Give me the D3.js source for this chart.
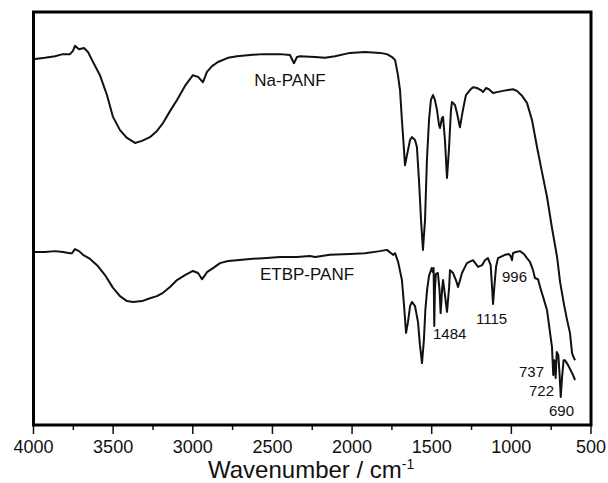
<!DOCTYPE html>
<html>
<head>
<meta charset="utf-8">
<script src="https://cdn.jsdelivr.net/npm/d3@7"></script>
<style>
  body { margin: 0; background: #fff; }
  svg { display: block; font-family: "Liberation Sans", Arial, sans-serif; }
</style>
</head>
<body>
<div id="chart"></div>
<script>
// Wavenumber (cm-1) for each series
const naWave = [3991, 3928, 3865, 3815, 3771, 3752, 3740, 3714, 3683, 3658, 3633, 3583, 3539, 3501, 3457, 3413, 3363, 3319, 3269, 3225, 3187, 3143, 3099, 3049, 2999, 2967, 2936, 2911, 2879, 2842, 2779, 2722, 2641, 2559, 2452, 2390, 2365, 2346, 2327, 2233, 2170, 2107, 2013, 1919, 1825, 1781, 1749, 1730, 1712, 1699, 1687, 1674, 1668, 1655, 1636, 1624, 1605, 1593, 1580, 1567, 1555, 1542, 1530, 1517, 1505, 1492, 1480, 1467, 1454, 1448, 1436, 1429, 1417, 1404, 1392, 1379, 1373, 1354, 1341, 1323, 1304, 1285, 1260, 1241, 1216, 1191, 1178, 1159, 1141, 1115, 1090, 1053, 1021, 990, 965, 933, 902, 870, 839, 808, 776, 745, 713, 694, 669, 650, 632, 619, 607, 600];
const naTrans = [88.6, 88.9, 89.3, 89.8, 89.8, 90.6, 91.8, 91.0, 91.3, 90.3, 88.4, 84.7, 79.9, 74.6, 71.4, 69.5, 68.3, 68.8, 69.7, 71.2, 73.1, 76.0, 78.7, 82.1, 84.7, 84.3, 83.0, 85.5, 86.9, 87.9, 88.9, 89.3, 89.6, 89.8, 89.8, 89.6, 87.6, 89.1, 89.3, 89.1, 88.9, 89.3, 90.1, 90.3, 90.1, 89.8, 89.1, 88.4, 84.7, 81.1, 73.8, 66.6, 62.9, 65.4, 69.0, 69.7, 69.0, 67.3, 59.3, 49.6, 42.4, 49.6, 64.2, 73.8, 78.7, 79.9, 78.7, 76.3, 72.6, 71.9, 74.3, 74.6, 69.0, 59.8, 66.6, 76.3, 78.2, 77.5, 75.5, 72.1, 76.3, 79.9, 81.1, 81.8, 81.6, 81.1, 80.6, 81.6, 81.3, 80.4, 80.6, 80.9, 81.1, 81.3, 80.9, 79.7, 78.0, 73.8, 67.3, 61.3, 55.2, 47.7, 40.7, 34.6, 29.1, 25.4, 22.3, 17.4, 16.2, 15.7];

const etbpWave = [3991, 3928, 3865, 3815, 3771, 3758, 3740, 3714, 3689, 3645, 3601, 3551, 3501, 3457, 3413, 3375, 3319, 3269, 3225, 3187, 3143, 3099, 3049, 2999, 2967, 2942, 2923, 2911, 2892, 2873, 2829, 2779, 2722, 2641, 2559, 2452, 2346, 2264, 2233, 2139, 2013, 1919, 1825, 1781, 1743, 1730, 1711, 1687, 1674, 1661, 1649, 1636, 1624, 1605, 1586, 1574, 1561, 1549, 1540, 1529, 1517, 1500, 1492, 1488, 1484, 1480, 1474, 1461, 1451, 1444, 1435, 1429, 1417, 1404, 1391, 1385, 1366, 1348, 1335, 1322, 1310, 1279, 1241, 1209, 1184, 1166, 1147, 1130, 1122, 1115, 1106, 1096, 1084, 1040, 1015, 1002, 996, 990, 971, 946, 921, 902, 883, 864, 852, 833, 814, 795, 776, 757, 745, 737, 730, 722, 715, 705, 697, 690, 682, 672, 663, 644, 619, 600];
const etbpTrans = [41.9, 41.9, 42.1, 41.9, 41.6, 41.6, 42.6, 42.1, 41.2, 40.2, 38.7, 36.3, 33.2, 31.2, 30.0, 29.8, 30.0, 30.7, 31.2, 32.0, 33.4, 35.1, 36.3, 37.3, 36.8, 35.3, 36.3, 37.0, 37.5, 38.0, 39.2, 39.7, 39.9, 40.2, 40.4, 40.7, 40.7, 40.9, 40.7, 41.2, 41.4, 41.6, 42.1, 42.4, 41.2, 41.6, 39.5, 35.1, 29.1, 22.3, 24.9, 28.8, 29.8, 28.8, 24.9, 19.4, 15.0, 20.6, 27.8, 32.7, 36.1, 38.0, 37.0, 38.0, 24.0, 32.7, 36.6, 36.8, 32.7, 27.1, 32.7, 35.1, 31.5, 27.4, 33.2, 37.5, 36.8, 35.1, 33.4, 35.1, 36.8, 39.2, 39.9, 38.3, 38.7, 39.9, 40.4, 38.7, 33.9, 29.3, 33.9, 38.3, 40.4, 41.2, 41.4, 40.7, 39.9, 41.6, 41.9, 42.1, 41.4, 40.4, 39.5, 37.5, 35.6, 35.3, 32.7, 30.3, 27.8, 22.3, 18.9, 12.1, 15.7, 11.4, 17.7, 16.9, 12.1, 6.8, 11.4, 15.7, 15.7, 14.5, 12.6, 10.9];

const seriesNames = ["Na-PANF", "ETBP-PANF"];
const xTicks = [4000, 3500, 3000, 2500, 2000, 1500, 1000, 500];
const peakLabels = ["1484", "1115", "996", "737", "722", "690"];

// layout
const width = 608, height = 483;
const margin = { left: 33.5, right: 591, top: 12, bottom: 425 };

const svg = d3.select("#chart").append("svg")
    .attr("width", width)
    .attr("height", height);

const x = d3.scaleLinear().domain([4000, 500]).range([margin.left, margin.right]);
const y = d3.scaleLinear().domain([0, 100]).range([margin.bottom, margin.top]);

const line = d3.line()
    .x(d => x(d[0]))
    .y(d => y(d[1]));

const naData = d3.zip(naWave, naTrans);
const etbpData = d3.zip(etbpWave, etbpTrans);

[naData, etbpData].forEach(data => {
    svg.append("path")
        .datum(data)
        .attr("fill", "none")
        .attr("stroke", "#111")
        .attr("stroke-width", 2)
        .attr("stroke-linejoin", "round")
        .attr("d", line);
});

// bottom axis: majors every 500, minors in between
const minor = d3.range(4000, 499, -250).filter(v => v % 500 !== 0);
const axis = svg.append("g");
axis.selectAll(".major")
    .data(xTicks)
    .enter().append("line")
    .attr("class", "major")
    .attr("x1", d => x(d)).attr("x2", d => x(d))
    .attr("y1", margin.bottom).attr("y2", margin.bottom + 9)
    .attr("stroke", "#111").attr("stroke-width", 1.5);
axis.selectAll(".minor")
    .data(minor)
    .enter().append("line")
    .attr("class", "minor")
    .attr("x1", d => x(d)).attr("x2", d => x(d))
    .attr("y1", margin.bottom).attr("y2", margin.bottom + 5)
    .attr("stroke", "#111").attr("stroke-width", 1.5);
axis.selectAll("text")
    .data(xTicks)
    .enter().append("text")
    .attr("x", d => x(d))
    .attr("y", 452.5)
    .attr("text-anchor", "middle")
    .style("font-size", "18px")
    .attr("fill", "#111")
    .text(d => d);

// frame
svg.append("rect")
    .attr("x", margin.left).attr("y", margin.top)
    .attr("width", margin.right - margin.left).attr("height", margin.bottom - margin.top)
    .attr("fill", "none")
    .attr("stroke", "#000")
    .attr("stroke-width", 3);

// axis title
const title = svg.append("text")
    .attr("x", 208)
    .attr("y", 478)
    .style("font-size", "24px")
    .attr("fill", "#111");
title.append("tspan").text("Wavenumber / cm");
title.append("tspan").attr("dy", -9).style("font-size", "14px").text("-1");

// series labels
svg.append("text").attr("x", 290).attr("y", 86).attr("text-anchor", "middle")
    .style("font-size", "17px").attr("fill", "#111").text(seriesNames[0]);
svg.append("text").attr("x", 307).attr("y", 280).attr("text-anchor", "middle")
    .style("font-size", "17px").attr("fill", "#111").text(seriesNames[1]);

// peak annotations
const peakPos = [[433, 339], [476, 324], [502, 282], [519, 377], [529, 396], [549, 416]];
svg.selectAll(".peak")
    .data(peakLabels)
    .enter().append("text")
    .attr("class", "peak")
    .attr("x", (d, i) => peakPos[i][0])
    .attr("y", (d, i) => peakPos[i][1])
    .style("font-size", "15px")
    .attr("fill", "#111")
    .text(d => d);
</script>
</body>
</html>
